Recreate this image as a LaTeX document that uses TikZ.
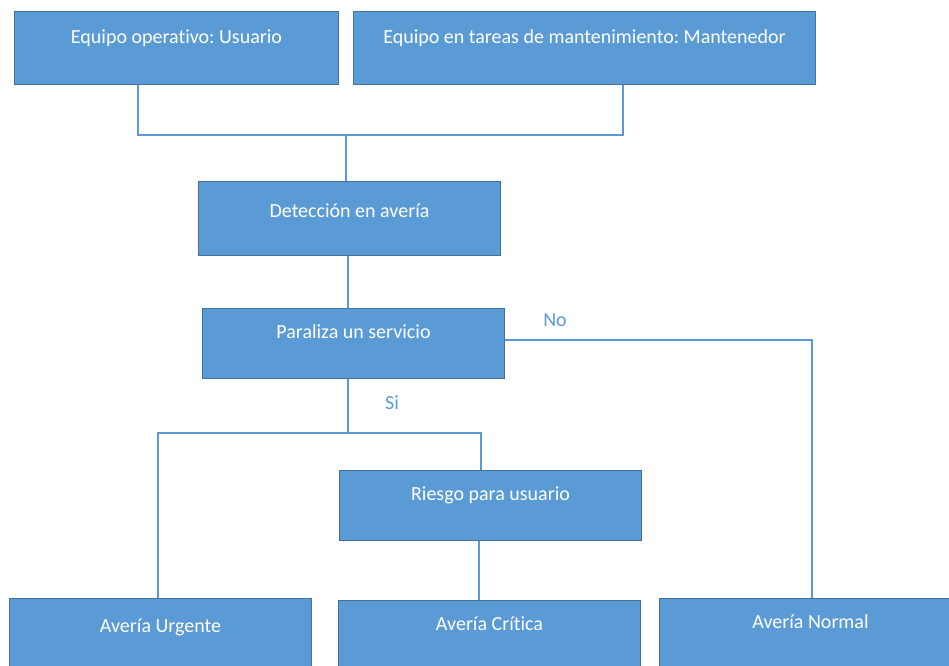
\documentclass[tikz,border=0pt]{standalone}
\usepackage{fontspec}
\setmainfont{Carlito}[Ligatures=NoCommon]
\frenchspacing
\definecolor{azul}{RGB}{91,155,213}
\definecolor{borde}{RGB}{65,113,156}
\tikzset{every picture/.style={line width=0.75pt}}
\tikzset{
  caja/.style={rectangle, draw=borde, fill=azul, text=white, inner sep=0pt, anchor=north west, minimum width=226.5pt, font=\fontsize{15}{18}\selectfont},
  linea/.style={draw=azul, line width=1.1pt},
  rotulo/.style={text=azul, inner sep=0pt, anchor=base, font=\fontsize{15}{18}\selectfont}
}
\begin{document}
\begin{tikzpicture}[x=0.75pt,y=0.75pt,yscale=-1,xscale=1]
\useasboundingbox (0,0) rectangle (949,666);

% Cajas
\node[caja, minimum width=243pt, text height=24pt, text depth=30.75pt] (usuario) at (14,11) {Equipo operativo: Usuario};
\node[caja, minimum width=346.5pt, text height=24pt, text depth=30.75pt] (mantenedor) at (353,11) {Equipo en tareas de mantenimiento: Mantenedor};
\node[caja, text height=27pt, text depth=28.5pt] (deteccion) at (198,181) {Detección en avería};
\node[caja, text height=22.5pt, text depth=30pt] (paraliza) at (202,308) {Paraliza un servicio};
\node[caja, text height=22.5pt, text depth=30pt] (riesgo) at (339,470) {Riesgo para usuario};
\node[caja, text height=25.5pt, text depth=34.5pt] (urgente) at (9,598) {Avería Urgente};
\node[caja, text height=22.5pt, text depth=37.5pt] (critica) at (338,600) {Avería Crítica};
\node[caja, text height=22.5pt, text depth=37.5pt] (normal) at (659,598) {Avería Normal};

% Puntos de union
\coordinate (u1) at (138,135);
\coordinate (m1) at (623,135);
\coordinate (union) at (346,135);
\coordinate (eje) at (348,433);
\coordinate (izq) at (158,433);
\coordinate (der) at (481,433);
\coordinate (baja) at (479,560);
\coordinate (esquina) at (812,340);

% Conectores
\draw[linea] (u1 |- usuario.south) -- (u1) -- (m1) -- (m1 |- mantenedor.south);
\draw[linea] (union) -- (union |- deteccion.north);
\draw[linea] (eje |- deteccion.south) -- (eje |- paraliza.north);
\draw[linea] (eje |- paraliza.south) -- (eje);
\draw[linea] (izq |- urgente.north) -- (izq) -- (der) -- (der |- riesgo.north);
\draw[linea] (baja |- riesgo.south) -- (baja |- critica.north);
\draw[linea] (paraliza.east |- esquina) -- (esquina) -- (esquina |- normal.north);

% Rotulos
\node[rotulo] (no) at (555,327) {No};
\node[rotulo] (si) at (392,409) {Si};

\end{tikzpicture}
\end{document}
